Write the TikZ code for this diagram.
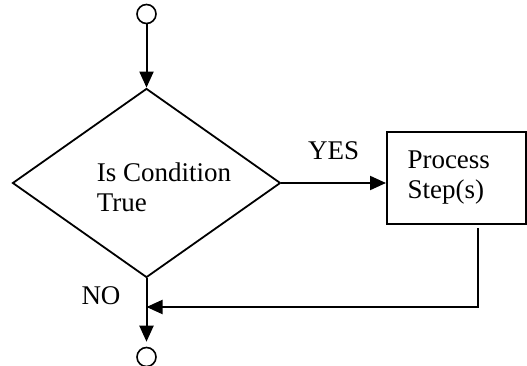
\documentclass[tikz,border=0pt]{standalone}
\usepackage{fontspec}
\setmainfont{Liberation Serif}
\usetikzlibrary{arrows.meta, calc, positioning, shapes.geometric}

\tikzset{
	conn/.style={draw, circle, line width=1.6pt, minimum size=19pt, inner sep=0pt},
	decision/.style={draw, diamond, line width=1.8pt, minimum width=268pt, minimum height=189pt, inner sep=0pt},
	procbox/.style={draw, rectangle, line width=2pt, minimum width=139pt, minimum height=92pt, inner sep=0pt, align=left, text width=98pt},
	flow/.style={line width=2pt, -{Triangle[length=16pt,width=14pt]}},
	lbl/.style={inner sep=0pt, align=left}
}

\begin{document}
\begin{tikzpicture}[x=1pt, y=-1pt, font=\fontsize{27}{30}\selectfont]
		\useasboundingbox (0,0) rectangle (527,366);
		% symbols
		\node[conn] (start) at (146.5,14) {};
		\node[decision] (cond) at (146.5,183) {};
		\node[lbl] (condtxt) at (164,187) {Is Condition\\True};
		\node[procbox] (proc) at (456.5,178) {Process\\Step(s)};
		\node[conn] (stop) at (146.5,357) {};
		\coordinate (join) at (146.5,307);
		% connectors
		\draw[flow] (start) -- (cond.north);
		\draw[flow] (cond.east) -- node[lbl, above=22pt] (yes) {YES} (cond.east -| proc.west);
		\draw[flow, shorten >=5pt] (cond.south) -- node[lbl, pos=.25, left=25pt] (no) {NO} (stop);
		\draw[flow] ([xshift=21.5pt, yshift=-3pt]proc.south) |- (join);
	\end{tikzpicture}
\end{document}
